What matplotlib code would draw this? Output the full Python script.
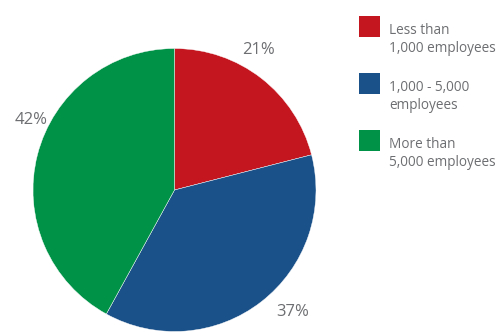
import matplotlib
matplotlib.use("Agg")
import matplotlib.pyplot as plt
import numpy as np

categories = ["Less than\n1,000 employees", "1,000 - 5,000\nemployees", "More than\n5,000 employees"]
shares = [21, 37, 42]
colors = ["#C3161F", "#1B5189", "#009247"]

# label anchor points in axes data units (pie radius = 1)
label_pos = [(0.597, 0.989), (0.837, -0.862), (-1.014, 0.495)]

W, H = 503, 333
fig = plt.figure(figsize=(W / 100, H / 100), dpi=100)
fig.patch.set_facecolor("white")

cx, cy, r = 174.5, 190.0, 141.5
ax = fig.add_axes([(cx - r) / W, (H - cy - r) / H, 2 * r / W, 2 * r / H])
ax.pie(shares, colors=colors, startangle=90, counterclock=False, radius=1,
       wedgeprops=dict(edgecolor="white", linewidth=0.3))
ax.set_xlim(-1, 1)
ax.set_ylim(-1, 1)
ax.set_aspect("equal")
ax.axis("off")

gray = "#6D6E71"
font = "Open Sans"
for v, (x, y) in zip(shares, label_pos):
    ax.text(x, y, f"{v}%", ha="center", va="center", fontsize=12,
            color=gray, family=font, clip_on=False)

# legend drawn in pixel positions
sq_x0, sq_size = 358.5, 21
sq_tops = [16, 73, 130]
for cat, col, top in zip(categories, colors, sq_tops):
    fig.patches.append(plt.Rectangle((sq_x0 / W, (H - top - sq_size) / H),
                                     sq_size / W, sq_size / H,
                                     transform=fig.transFigure,
                                     facecolor=col, edgecolor="none"))
    fig.text(389 / W, (H - top - 23.5) / H, cat, ha="left", va="center",
             fontsize=9.8, color=gray, family=font, linespacing=1.35)

fig.savefig("out.png", dpi=100, facecolor="white")
